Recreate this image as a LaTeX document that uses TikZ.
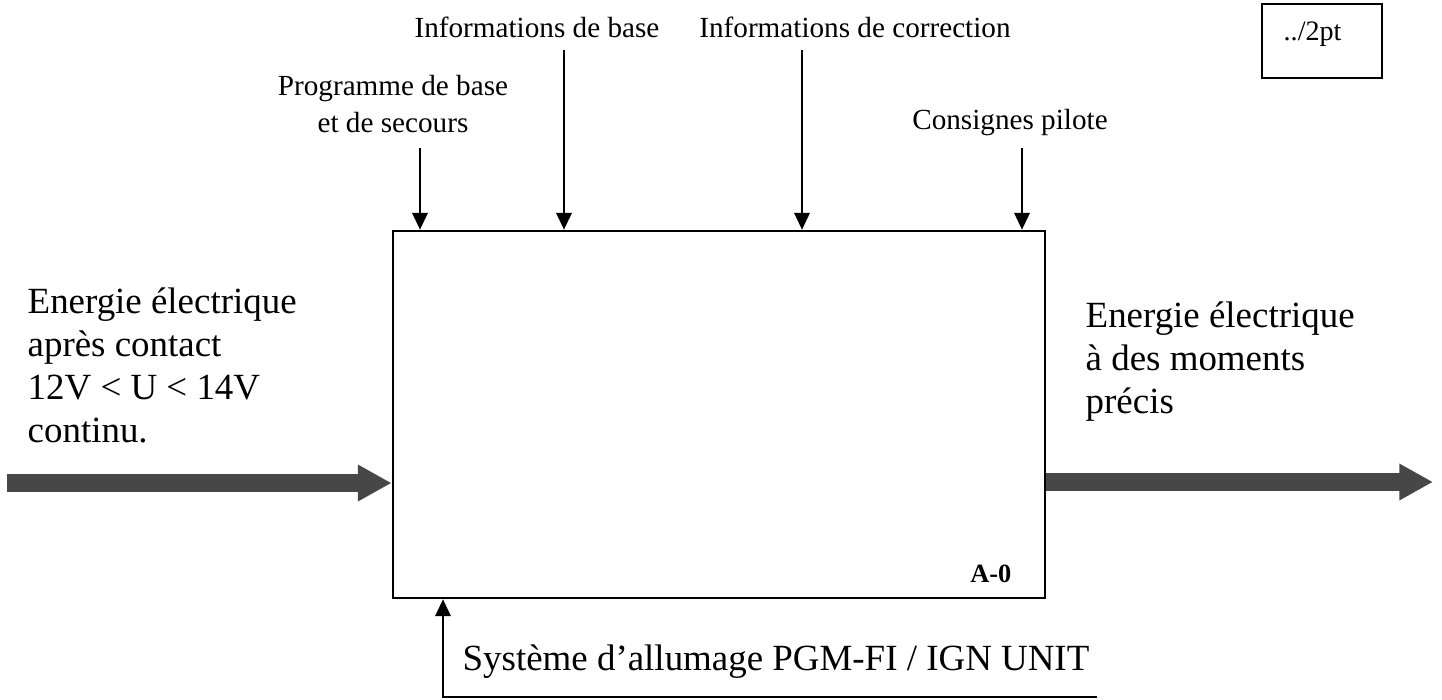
\documentclass[tikz,border=0pt]{standalone}
\usepackage{fontspec}
\setmainfont{Liberation Serif}
\usetikzlibrary{arrows.meta}
\tikzset{
  ctrl/.style={draw, line width=0.6pt, -{Triangle[length=4.8pt,width=4.4pt]}},
  flux/.style={draw=black!72, line width=5pt, -{Triangle[length=9.6pt,width=9.8pt]}},
  toplab/.style={font=\fontsize{8.3}{10.5}\selectfont, align=center, inner sep=0pt, anchor=base},
  biglab/.style={font=\fontsize{10.5}{12.2}\selectfont, align=left, inner sep=0pt, anchor=base west},
}
\begin{document}
\begin{tikzpicture}[x=0.01cm, y=-0.01cm]
\useasboundingbox (0,0) rectangle (1442,699);
\node[draw, line width=0.7pt, minimum width=6.52cm, minimum height=3.67cm, inner sep=0pt] (ao) at (719,414.5) {};
\node[anchor=base east, font=\bfseries\fontsize{7.5}{9}\selectfont, inner sep=0pt] (code) at (1012,582) {A-0};
\node[draw, line width=0.7pt, minimum width=1.2cm, minimum height=0.74cm, inner sep=0pt] (page) at (1322,41) {};
\node[anchor=base west, font=\fontsize{8}{9}\selectfont, inner sep=0pt] (pt) at (1283,40) {../2pt};

\node[toplab] (prog-t) at (393,132) {Programme de base\\et de secours};
\node[toplab] (base-t) at (537,37) {Informations de base};
\node[toplab] (corr-t) at (855,37) {Informations de correction};
\node[toplab] (pil-t) at (1010,129) {Consignes pilote};
\foreach \n/\x/\y in {prog/420/148, base/564/50, corr/802/50, pil/1022/148} {
  \coordinate (\n) at (\x,\y);
  \draw[ctrl] (\n) -- (\n |- ao.north);
}

\coordinate (ein) at (7,483);
\coordinate (eout) at (1433,482);
\draw[flux] (ein) -- (ein -| ao.west);
\draw[flux] (ao.east |- eout) -- (eout);
\node[biglab] (ein-t) at (27,442) {Energie électrique\\après contact\\12V < U < 14V\\continu.};
\node[biglab] (eout-t) at (1085,413) {Energie électrique\\à des moments\\précis};

\coordinate (mk) at (443,697);
\coordinate (meca) at (1097,697);
\draw[ctrl] (meca) -- (mk) -- (mk |- ao.south);
\node[biglab] (meca-t) at (462,670) {Système d’allumage PGM-FI / IGN UNIT};
\end{tikzpicture}
\end{document}
